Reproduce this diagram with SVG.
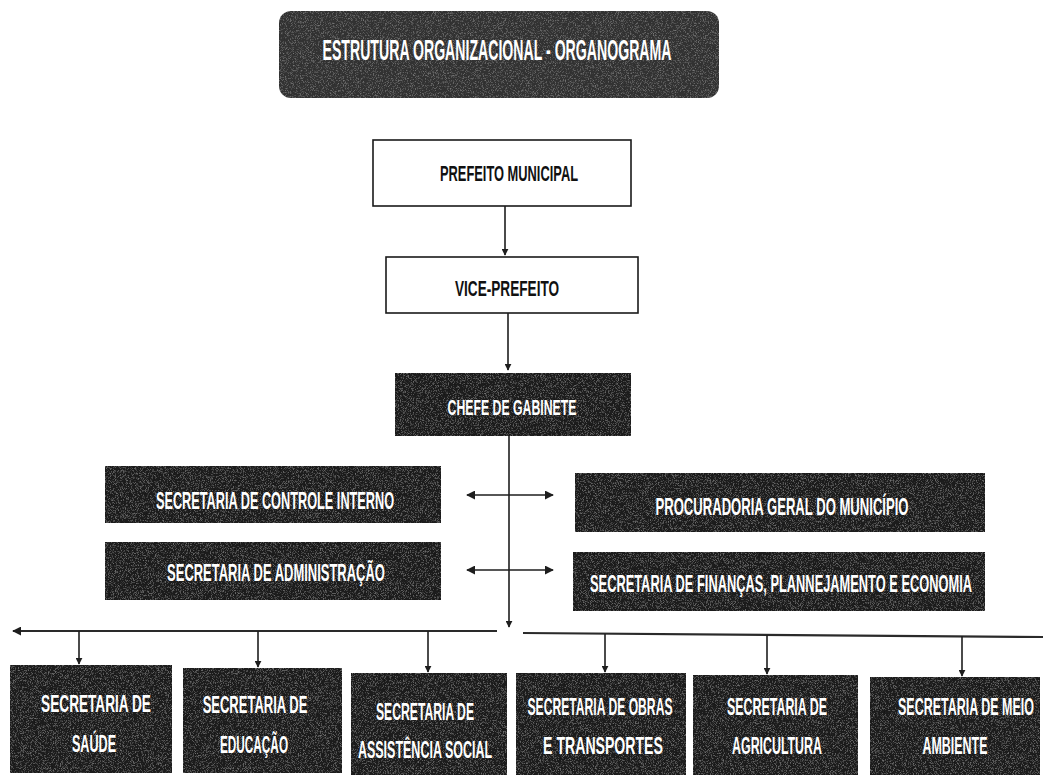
<svg xmlns="http://www.w3.org/2000/svg" width="1045" height="775" viewBox="0 0 1045 775">
<style>
.dark{fill:#1f1f1f;}
.white{fill:#ffffff;stroke:#1a1a1a;stroke-width:1.6;}
.lbl{font-family:"Liberation Sans","DejaVu Sans",sans-serif;fill:#ffffff;text-anchor:middle;font-weight:bold;}
.blk{font-family:"Liberation Sans","DejaVu Sans",sans-serif;fill:#111111;font-weight:bold;text-anchor:middle;}
.conn{stroke:#1e1e1e;stroke-width:1.6;fill:none;}
.bus{stroke:#2a2a2a;stroke-width:2.2;fill:none;}
</style>
<defs>
<marker id="ah" viewBox="0 0 10 10" refX="9" refY="5" markerWidth="7" markerHeight="7" markerUnits="userSpaceOnUse" orient="auto-start-reverse">
<path d="M0,0 L10,5 L0,10 Z" fill="#1e1e1e"/>
</marker>
<marker id="ahs" viewBox="0 0 10 10" refX="9" refY="5" markerWidth="9" markerHeight="9" markerUnits="userSpaceOnUse" orient="auto-start-reverse">
<path d="M0,0 L10,5 L0,10 Z" fill="#1e1e1e"/>
</marker>
<filter id="grain" x="0" y="0" width="100%" height="100%">
<feTurbulence type="fractalNoise" baseFrequency="1.4" numOctaves="1" seed="4" result="n"/>
<feColorMatrix in="n" type="matrix" values="0 0 0 0 0.45  0 0 0 0 0.45  0 0 0 0 0.45  0 0 0 1.2 -0.6" result="g"/>
<feComposite in="g" in2="SourceGraphic" operator="in" result="gi"/>
<feMerge><feMergeNode in="SourceGraphic"/><feMergeNode in="gi"/></feMerge>
</filter>
</defs>
<rect x="0" y="0" width="1045" height="775" fill="#ffffff"/>

<g id="title">
<rect x="279" y="11" width="440" height="87" rx="12" fill="#333333" filter="url(#grain)"/>
<text class="lbl" font-size="29" transform="translate(497 60) scale(0.486 1)" textLength="718" lengthAdjust="spacingAndGlyphs">ESTRUTURA ORGANIZACIONAL - ORGANOGRAMA</text>
</g>

<g id="prefeito">
<rect class="white" x="373" y="140" width="258" height="66"/>
<text class="blk" font-size="22" transform="translate(509 181) scale(0.58 1)" textLength="238" lengthAdjust="spacingAndGlyphs">PREFEITO MUNICIPAL</text>
</g>

<g id="vice">
<rect class="white" x="386" y="257" width="252" height="56"/>
<text class="blk" font-size="22" transform="translate(507 296) scale(0.62 1)" textLength="168" lengthAdjust="spacingAndGlyphs">VICE-PREFEITO</text>
</g>

<g id="chefe">
<rect class="dark" x="395" y="373" width="236" height="63" filter="url(#grain)"/>
<text class="lbl" font-size="22" transform="translate(512 415) scale(0.56 1)" textLength="230" lengthAdjust="spacingAndGlyphs">CHEFE DE GABINETE</text>
</g>

<g id="controle">
<rect class="dark" x="105" y="466" width="336" height="57" filter="url(#grain)"/>
<text class="lbl" font-size="23" transform="translate(275 509) scale(0.55 1)" textLength="433" lengthAdjust="spacingAndGlyphs">SECRETARIA DE CONTROLE INTERNO</text>
</g>

<g id="administracao">
<rect class="dark" x="105" y="542" width="336" height="58" filter="url(#grain)"/>
<text class="lbl" font-size="23" transform="translate(276 581) scale(0.56 1)" textLength="389" lengthAdjust="spacingAndGlyphs">SECRETARIA DE ADMINISTRAÇÃO</text>
</g>

<g id="procuradoria">
<rect class="dark" x="575" y="473" width="410" height="59" filter="url(#grain)"/>
<text class="lbl" font-size="23" transform="translate(782 515) scale(0.57 1)" textLength="444" lengthAdjust="spacingAndGlyphs">PROCURADORIA GERAL DO MUNICÍPIO</text>
</g>

<g id="financas">
<rect class="dark" x="573" y="552" width="412" height="59" filter="url(#grain)"/>
<text class="lbl" font-size="23" transform="translate(781 592) scale(0.556 1)" textLength="687" lengthAdjust="spacingAndGlyphs">SECRETARIA DE FINANÇAS, PLANNEJAMENTO E ECONOMIA</text>
</g>

<g id="saude">
<rect class="dark" x="10" y="665" width="162" height="108" filter="url(#grain)"/>
<text class="lbl" font-size="24" transform="translate(96 712) scale(0.56 1)" textLength="196" lengthAdjust="spacingAndGlyphs">SECRETARIA DE</text>
<text class="lbl" font-size="24" transform="translate(94 752) scale(0.52 1)" textLength="85" lengthAdjust="spacingAndGlyphs">SAÚDE</text>
</g>

<g id="educacao">
<rect class="dark" x="183" y="668" width="159" height="105" filter="url(#grain)"/>
<text class="lbl" font-size="24" transform="translate(255 713) scale(0.54 1)" textLength="194" lengthAdjust="spacingAndGlyphs">SECRETARIA DE</text>
<text class="lbl" font-size="24" transform="translate(254 753) scale(0.49 1)" textLength="139" lengthAdjust="spacingAndGlyphs">EDUCAÇÃO</text>
</g>

<g id="assistencia">
<rect class="dark" x="351" y="673" width="156" height="102" filter="url(#grain)"/>
<text class="lbl" font-size="24" transform="translate(425 720) scale(0.5 1)" textLength="196" lengthAdjust="spacingAndGlyphs">SECRETARIA DE</text>
<text class="lbl" font-size="24" transform="translate(425 758) scale(0.52 1)" textLength="258" lengthAdjust="spacingAndGlyphs">ASSISTÊNCIA SOCIAL</text>
</g>

<g id="obras">
<rect class="dark" x="516" y="673" width="170" height="102" filter="url(#grain)"/>
<text class="lbl" font-size="24" transform="translate(600 715) scale(0.5 1)" textLength="290" lengthAdjust="spacingAndGlyphs">SECRETARIA DE OBRAS</text>
<text class="lbl" font-size="24" transform="translate(603 754) scale(0.59 1)" textLength="203" lengthAdjust="spacingAndGlyphs">E TRANSPORTES</text>
</g>

<g id="agricultura">
<rect class="dark" x="693" y="675" width="165" height="100" filter="url(#grain)"/>
<text class="lbl" font-size="24" transform="translate(777 715) scale(0.51 1)" textLength="196" lengthAdjust="spacingAndGlyphs">SECRETARIA DE</text>
<text class="lbl" font-size="24" transform="translate(777 754) scale(0.51 1)" textLength="176" lengthAdjust="spacingAndGlyphs">AGRICULTURA</text>
</g>

<g id="meio-ambiente">
<rect class="dark" x="870" y="677" width="170" height="98" filter="url(#grain)"/>
<text class="lbl" font-size="24" transform="translate(966 715) scale(0.515 1)" textLength="264" lengthAdjust="spacingAndGlyphs">SECRETARIA DE MEIO</text>
<text class="lbl" font-size="24" transform="translate(955 754) scale(0.52 1)" textLength="125" lengthAdjust="spacingAndGlyphs">AMBIENTE</text>
</g>

<g id="connectors">
<line class="conn" x1="505" y1="206" x2="505" y2="255" marker-end="url(#ah)"/>
<line class="conn" x1="508" y1="313" x2="508" y2="370" marker-end="url(#ah)"/>
<line class="conn" x1="509" y1="436" x2="509" y2="627" marker-end="url(#ah)"/>
<line class="conn" x1="467" y1="495" x2="553" y2="495" stroke-width="2.4" marker-start="url(#ahs)" marker-end="url(#ahs)"/>
<line class="conn" x1="467" y1="570" x2="553" y2="570" stroke-width="2.4" marker-start="url(#ahs)" marker-end="url(#ahs)"/>
<line class="bus" x1="497" y1="631" x2="13" y2="631" marker-end="url(#ahs)"/>
<line class="bus" x1="523" y1="633" x2="1043" y2="637"/>
<line class="conn" x1="79" y1="631" x2="79" y2="664" marker-end="url(#ah)"/>
<line class="conn" x1="258" y1="631" x2="258" y2="667" marker-end="url(#ah)"/>
<line class="conn" x1="428" y1="631" x2="428" y2="672" marker-end="url(#ah)"/>
<line class="conn" x1="605" y1="634" x2="605" y2="672" marker-end="url(#ah)"/>
<line class="conn" x1="767" y1="635" x2="767" y2="674" marker-end="url(#ah)"/>
<line class="conn" x1="962" y1="636" x2="962" y2="676" marker-end="url(#ah)"/>
</g>
</svg>
